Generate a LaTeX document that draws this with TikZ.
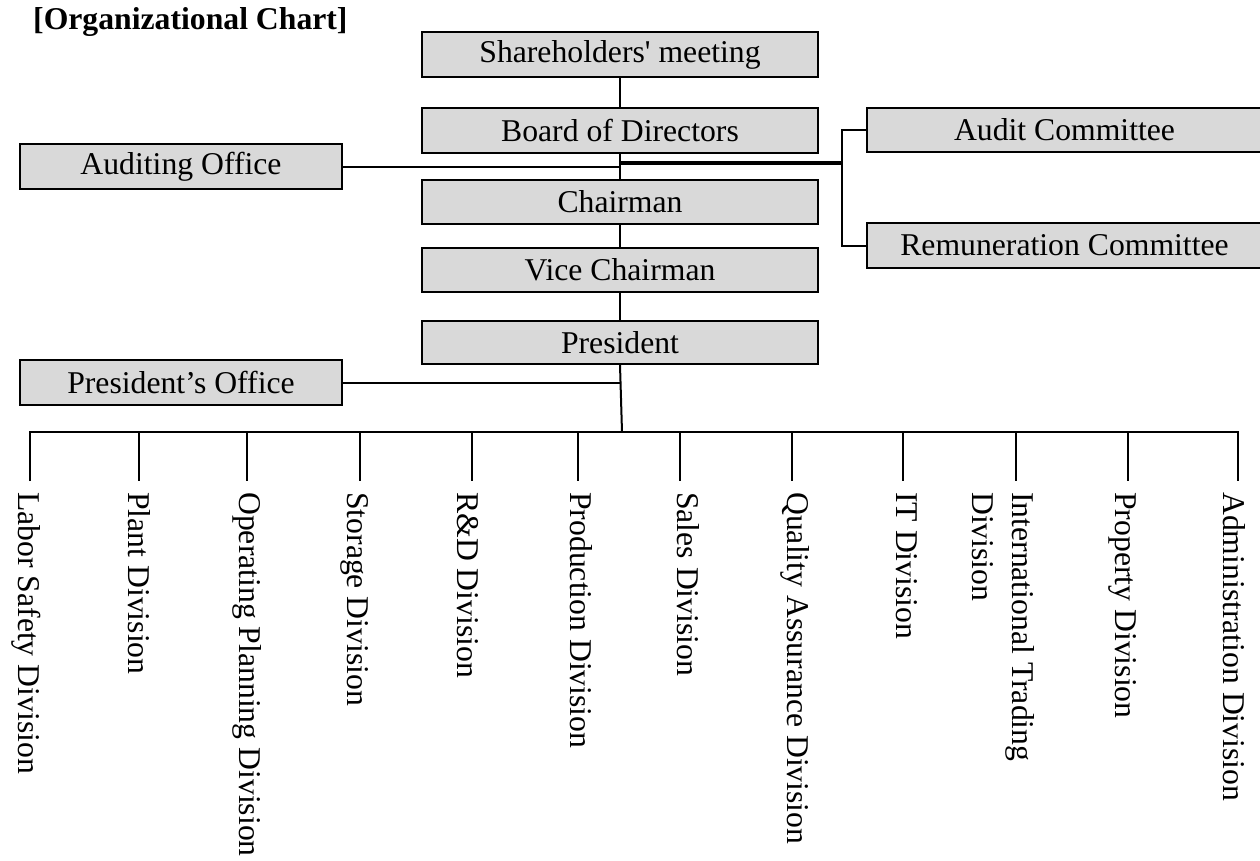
\documentclass[tikz,border=0pt]{standalone}
\usepackage{fontspec}
\setmainfont{Liberation Serif}
\newcommand\orgfs{\fontsize{31.7}{40}\selectfont}
\begin{document}
\begin{tikzpicture}[x=1pt,y=-1pt,
  box/.style={draw, line width=2pt, fill=black!15, inner sep=0pt, minimum height=45pt, font=\orgfs},
  ln/.style={line width=2pt},
  thk/.style={line width=3.5pt},
  div/.style={rotate=-90, anchor=base west, inner sep=0pt, font=\orgfs}]
\useasboundingbox (0,0) rectangle (1260,860);

% title
\node[anchor=base west, inner sep=0pt, font=\orgfs\bfseries] (title) at (33,29.5) {[Organizational Chart]};

% main column
\node[box, minimum width=396pt] (sh) at (620,54.5) {Shareholders\textquotesingle{} meeting};
\node[box, minimum width=396pt] (bd) at (620,130.5) {Board of Directors};
\node[box, minimum width=396pt, minimum height=44pt] (ch) at (620,202) {Chairman};
\node[box, minimum width=396pt, minimum height=44pt] (vc) at (620,270) {Vice Chairman};
\node[box, minimum width=396pt, minimum height=43pt] (pr) at (620,342.5) {President};

% side boxes
\node[box, minimum width=322pt] (ao) at (181,166.5) {Auditing Office};
\node[box, minimum width=322pt] (po) at (181,382.5) {President’s Office};
\node[box, minimum width=395pt, minimum height=44pt] (ac) at (1064.5,130) {Audit Committee};
\node[box, minimum width=395pt] (rc) at (1064.5,245.5) {Remuneration Committee};

% vertical chain
\draw[ln] (sh.south) -- (bd.north);
\draw[ln] (bd.south) -- (ch.north);
\draw[ln] (ch.south) -- (vc.north);
\draw[ln] (vc.south) -- (pr.north);

% auditing office
\draw[ln] (ao.east) -- (ao.east -| bd.south);

% committees
\coordinate (bj) at (620,163);
\coordinate (brk) at (842,163);
\draw[thk] (bj) -- (brk);
\draw[ln] (ac.west) -| (brk) |- (rc.west);

% president's office and bus
\coordinate (pj) at (622,432);
\draw[ln] (pr.south) -- (pj);
\draw[ln] (po.east) -- (po.east -| pr.south);

\foreach \i/\x in {1/30,2/139,3/247,4/360,5/472,6/578,7/680,8/792,9/903,10/1016,11/1128,12/1238}{
  \coordinate (t\i) at (\x,432);
  \coordinate (e\i) at (\x,481);
}
\draw[ln] (e1) -- (t1) -- (t12) -- (e12);
\foreach \i in {2,...,11}{
  \draw[ln] (t\i) -- (e\i);
}

% divisions
\node[div] (d1) at (18,492) {Labor Safety Division};
\node[div] (d2) at (128,492) {Plant Division};
\node[div] (d3) at (239,492) {Operating Planning Division};
\node[div] (d4) at (347,492) {Storage Division};
\node[div] (d5) at (457,492) {R\&D Division};
\node[div] (d6) at (570,492) {Production Division};
\node[div] (d7) at (677,492) {Sales Division};
\node[div] (d8) at (787,492) {Quality Assurance Division};
\node[div] (d9) at (896,492) {IT Division};
\node[div, anchor=north west, align=left] (d10) at (1035,492) {International Trading\\Division};
\node[div] (d11) at (1115,492) {Property Division};
\node[div] (d12) at (1223,492) {Administration Division};
\end{tikzpicture}
\end{document}
